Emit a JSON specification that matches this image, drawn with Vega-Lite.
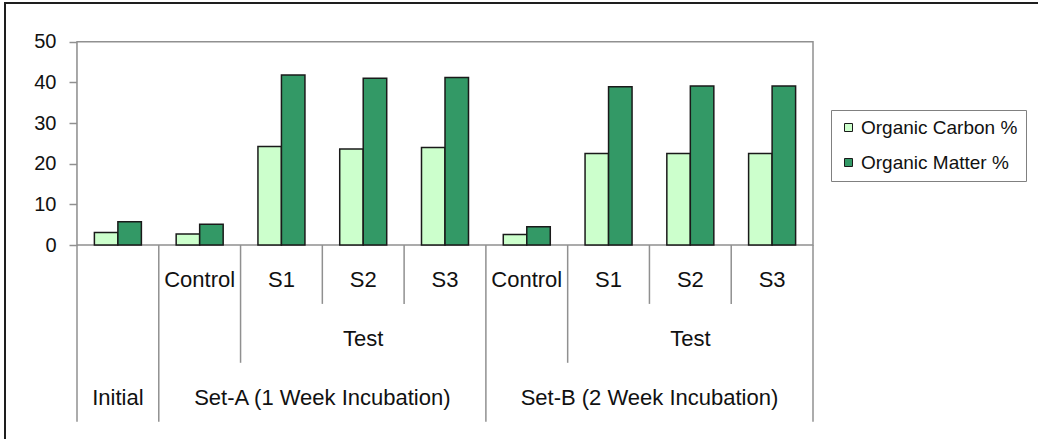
{
  "$schema": "https://vega.github.io/schema/vega-lite/v6.json",
  "width": 1043,
  "height": 446,
  "autosize": {"type": "none"},
  "padding": {"left": 5, "top": 3, "right": -10, "bottom": -10},
  "background": "white",
  "config": {
    "font": "Liberation Sans",
    "view": {"stroke": "#1e1e1e", "strokeWidth": 2}
  },
  "datasets": {
    "bars": [
      {"cat": "Initial", "series": "Organic Carbon %", "value": 3.1},
      {"cat": "Initial", "series": "Organic Matter %", "value": 5.7},
      {"cat": "A-Control", "series": "Organic Carbon %", "value": 2.7},
      {"cat": "A-Control", "series": "Organic Matter %", "value": 5.1},
      {"cat": "A-S1", "series": "Organic Carbon %", "value": 24.2},
      {"cat": "A-S1", "series": "Organic Matter %", "value": 41.8},
      {"cat": "A-S2", "series": "Organic Carbon %", "value": 23.6},
      {"cat": "A-S2", "series": "Organic Matter %", "value": 41.0},
      {"cat": "A-S3", "series": "Organic Carbon %", "value": 24.0},
      {"cat": "A-S3", "series": "Organic Matter %", "value": 41.2},
      {"cat": "B-Control", "series": "Organic Carbon %", "value": 2.6},
      {"cat": "B-Control", "series": "Organic Matter %", "value": 4.5},
      {"cat": "B-S1", "series": "Organic Carbon %", "value": 22.5},
      {"cat": "B-S1", "series": "Organic Matter %", "value": 38.9},
      {"cat": "B-S2", "series": "Organic Carbon %", "value": 22.5},
      {"cat": "B-S2", "series": "Organic Matter %", "value": 39.1},
      {"cat": "B-S3", "series": "Organic Carbon %", "value": 22.5},
      {"cat": "B-S3", "series": "Organic Matter %", "value": 39.1}
    ],
    "separatorsStart": [
      {"cat": "Initial", "depth": 3},
      {"cat": "A-Control", "depth": 3},
      {"cat": "A-S1", "depth": 2},
      {"cat": "A-S2", "depth": 1},
      {"cat": "A-S3", "depth": 1},
      {"cat": "B-Control", "depth": 3},
      {"cat": "B-S1", "depth": 2},
      {"cat": "B-S2", "depth": 1},
      {"cat": "B-S3", "depth": 1}
    ],
    "separatorsEnd": [
      {"cat": "B-S3", "depth": 3}
    ],
    "labelsCenter": [
      {"label": "Control", "cat": "A-Control", "level": 1},
      {"label": "S1", "cat": "A-S1", "level": 1},
      {"label": "S2", "cat": "A-S2", "level": 1},
      {"label": "S3", "cat": "A-S3", "level": 1},
      {"label": "Control", "cat": "B-Control", "level": 1},
      {"label": "S1", "cat": "B-S1", "level": 1},
      {"label": "S2", "cat": "B-S2", "level": 1},
      {"label": "S3", "cat": "B-S3", "level": 1},
      {"label": "Test", "cat": "A-S2", "level": 2},
      {"label": "Test", "cat": "B-S2", "level": 2},
      {"label": "Initial", "cat": "Initial", "level": 3}
    ],
    "labelsEdge": [
      {"label": "Set-A (1 Week Incubation)", "cat": "A-S1", "level": 3},
      {"label": "Set-B (2 Week Incubation)", "cat": "B-S1", "level": 3}
    ]
  },
  "resolve": {"scale": {"y": "independent"}},
  "layer": [
    {
      "layer": [
        {
          "data": {"values": [{}]},
          "mark": {"type": "rect", "fill": "white", "stroke": "#909090", "strokeWidth": 1.5},
          "encoding": {
            "x": {"datum": "Initial", "type": "nominal", "bandPosition": 0, "axis": null,
              "scale": {"domain": ["Initial", "A-Control", "A-S1", "A-S2", "A-S3", "B-Control", "B-S1", "B-S2", "B-S3"], "range": [72, 808], "paddingInner": 0, "paddingOuter": 0}},
            "x2": {"datum": "B-S3", "bandPosition": 1},
            "y": {"datum": 0, "type": "quantitative", "scale": {"domain": [0, 50], "range": [242, 38.7], "nice": false}},
            "y2": {"datum": 50}
          }
        },
        {
          "data": {"name": "bars"},
          "transform": [{"filter": "datum.series == 'Organic Carbon %'"}],
          "mark": {"type": "bar", "stroke": "#1a1a1a", "strokeWidth": 1.5, "width": 23.5, "xOffset": -11.75},
          "encoding": {
            "x": {"field": "cat", "type": "nominal", "axis": null,
              "scale": {"domain": ["Initial", "A-Control", "A-S1", "A-S2", "A-S3", "B-Control", "B-S1", "B-S2", "B-S3"], "range": [72, 808], "paddingInner": 0, "paddingOuter": 0}},
            "y": {"field": "value", "type": "quantitative",
              "scale": {"domain": [0, 50], "range": [242, 38.7], "nice": false},
              "axis": {"values": [0, 10, 20, 30, 40, 50], "offset": -72, "title": null, "grid": false,
                "domainColor": "#909090", "domainWidth": 1.5, "tickColor": "#909090", "tickWidth": 1.5, "tickSize": 8,
                "labelFontSize": 20, "labelColor": "#111111", "labelPadding": 13}},
            "fill": {"field": "series", "type": "nominal",
              "scale": {"domain": ["Organic Carbon %", "Organic Matter %"], "range": ["#CCFFCC", "#339966"]},
              "legend": {"orient": "none", "legendX": 826, "legendY": 107, "title": null,
                "strokeColor": "#808080", "padding": 8, "fillColor": "white",
                "symbolType": "square", "symbolSize": 64, "symbolStrokeColor": "#1a1a1a", "symbolStrokeWidth": 1,
                "labelFontSize": 19, "labelColor": "#111111", "labelOffset": 3, "rowPadding": 15}}
          }
        },
        {
          "data": {"name": "bars"},
          "transform": [{"filter": "datum.series == 'Organic Matter %'"}],
          "mark": {"type": "bar", "stroke": "#1a1a1a", "strokeWidth": 1.5, "width": 23.5, "xOffset": 11.75},
          "encoding": {
            "x": {"field": "cat", "type": "nominal", "axis": null,
              "scale": {"domain": ["Initial", "A-Control", "A-S1", "A-S2", "A-S3", "B-Control", "B-S1", "B-S2", "B-S3"], "range": [72, 808], "paddingInner": 0, "paddingOuter": 0}},
            "y": {"field": "value", "type": "quantitative",
              "scale": {"domain": [0, 50], "range": [242, 38.7], "nice": false}},
            "fill": {"field": "series", "type": "nominal",
              "scale": {"domain": ["Organic Carbon %", "Organic Matter %"], "range": ["#CCFFCC", "#339966"]}}
          }
        }
      ]
    },
    {
      "layer": [
        {
          "data": {"name": "separatorsStart"},
          "mark": {"type": "rule", "stroke": "#909090", "strokeWidth": 1.5},
          "encoding": {
            "x": {"field": "cat", "type": "nominal", "bandPosition": 0, "axis": null,
              "scale": {"domain": ["Initial", "A-Control", "A-S1", "A-S2", "A-S3", "B-Control", "B-S1", "B-S2", "B-S3"], "range": [72, 808], "paddingInner": 0, "paddingOuter": 0}},
            "y": {"field": "depth", "type": "quantitative", "axis": null, "scale": {"domain": [0, 3], "range": [242, 418.7], "nice": false, "zero": false}},
            "y2": {"datum": 0}
          }
        },
        {
          "data": {"name": "separatorsEnd"},
          "mark": {"type": "rule", "stroke": "#909090", "strokeWidth": 1.5},
          "encoding": {
            "x": {"field": "cat", "type": "nominal", "bandPosition": 1, "axis": null,
              "scale": {"domain": ["Initial", "A-Control", "A-S1", "A-S2", "A-S3", "B-Control", "B-S1", "B-S2", "B-S3"], "range": [72, 808], "paddingInner": 0, "paddingOuter": 0}},
            "y": {"field": "depth", "type": "quantitative", "axis": null, "scale": {"domain": [0, 3], "range": [242, 418.7], "nice": false, "zero": false}},
            "y2": {"datum": 0}
          }
        },
        {
          "data": {"name": "labelsCenter"},
          "mark": {"type": "text", "fontSize": 22, "baseline": "middle", "align": "center", "dy": -24, "color": "#111111"},
          "encoding": {
            "x": {"field": "cat", "type": "nominal", "axis": null,
              "scale": {"domain": ["Initial", "A-Control", "A-S1", "A-S2", "A-S3", "B-Control", "B-S1", "B-S2", "B-S3"], "range": [72, 808], "paddingInner": 0, "paddingOuter": 0}},
            "y": {"field": "level", "type": "quantitative", "axis": null, "scale": {"domain": [0, 3], "range": [242, 418.7], "nice": false, "zero": false}},
            "text": {"field": "label"}
          }
        },
        {
          "data": {"name": "labelsEdge"},
          "mark": {"type": "text", "fontSize": 22, "baseline": "middle", "align": "center", "dy": -24, "color": "#111111"},
          "encoding": {
            "x": {"field": "cat", "type": "nominal", "bandPosition": 1, "axis": null,
              "scale": {"domain": ["Initial", "A-Control", "A-S1", "A-S2", "A-S3", "B-Control", "B-S1", "B-S2", "B-S3"], "range": [72, 808], "paddingInner": 0, "paddingOuter": 0}},
            "y": {"field": "level", "type": "quantitative", "axis": null, "scale": {"domain": [0, 3], "range": [242, 418.7], "nice": false, "zero": false}},
            "text": {"field": "label"}
          }
        }
      ]
    }
  ]
}
